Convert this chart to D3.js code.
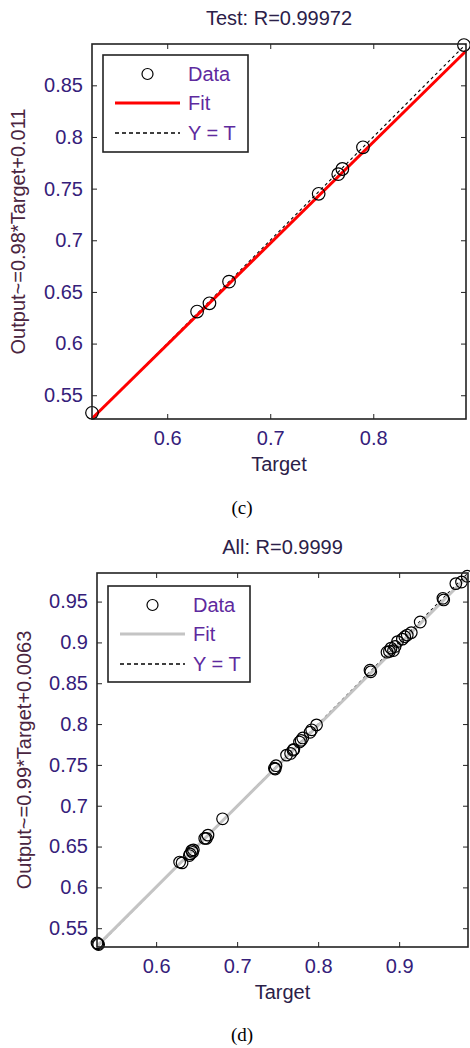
<!DOCTYPE html>
<html>
<head>
<meta charset="UTF-8">
<title>Regression plots</title>
<script src="https://d3js.org/d3.v7.min.js"></script>
<style>
  body { margin: 0; background: #fff; }
  svg text { font-family: "Liberation Sans", Arial, sans-serif; }
  .caption { font-family: "Liberation Serif", "Times New Roman", serif !important; }
</style>
</head>
<body>
<svg id="fig" width="470" height="1048"></svg>
<script>
// ---- data ----
// test set: [target, output]
var testTarget = [0.527, 0.629, 0.641, 0.660, 0.747, 0.766, 0.770, 0.790, 0.888];
var testOutput = [0.533, 0.631, 0.639, 0.660, 0.745, 0.764, 0.769, 0.790, 0.889];
var testFit = [0.98, 0.011];          // slope, intercept
var testLim = [0.527, 0.890];
var testXTicks = [0.6, 0.7, 0.8];
var testYTicks = [0.55, 0.6, 0.65, 0.7, 0.75, 0.8, 0.85];

// all data
var allTarget = [0.527, 0.528, 0.529, 0.629, 0.632, 0.641, 0.642, 0.644, 0.646, 0.645,
                 0.660, 0.662, 0.664, 0.682, 0.746, 0.747, 0.748, 0.761, 0.766, 0.769,
                 0.770, 0.777, 0.779, 0.781, 0.790, 0.792, 0.798, 0.864, 0.865, 0.885,
                 0.888, 0.890, 0.893, 0.895, 0.898, 0.904, 0.907, 0.910, 0.915, 0.926,
                 0.954, 0.955, 0.970, 0.977, 0.984];
var allOutput = [0.532, 0.531, 0.530, 0.631, 0.630, 0.639, 0.641, 0.645, 0.646, 0.643,
                 0.660, 0.660, 0.664, 0.684, 0.746, 0.745, 0.749, 0.762, 0.764, 0.768,
                 0.769, 0.778, 0.780, 0.783, 0.790, 0.793, 0.799, 0.866, 0.864, 0.888,
                 0.889, 0.893, 0.890, 0.895, 0.901, 0.904, 0.907, 0.909, 0.912, 0.925,
                 0.954, 0.952, 0.972, 0.974, 0.981];
var allFit = [0.99, 0.0063];
var allLim = [0.527, 0.985];
var allXTicks = [0.6, 0.7, 0.8, 0.9];
var allYTicks = [0.55, 0.6, 0.65, 0.7, 0.75, 0.8, 0.85, 0.9, 0.95];

var svg = d3.select("#fig");

function drawPanel(p) {
  var x = d3.scaleLinear().domain(p.lim).range([p.box[0], p.box[2]]);
  var y = d3.scaleLinear().domain(p.lim).range([p.box[3], p.box[1]]);
  var g = svg.append("g");

  // Y = T dashed line
  g.append("line")
    .attr("x1", x(p.lim[0])).attr("y1", y(p.lim[0]))
    .attr("x2", x(p.lim[1])).attr("y2", y(p.lim[1]))
    .attr("stroke", "#000").attr("stroke-width", 1.1)
    .attr("stroke-dasharray", "3,3");

  // fit line
  var f = function(t) { return p.fit[0] * t + p.fit[1]; };
  g.append("line")
    .attr("x1", x(p.lim[0])).attr("y1", y(f(p.lim[0])))
    .attr("x2", x(p.lim[1])).attr("y2", y(f(p.lim[1])))
    .attr("stroke", p.fitColor).attr("stroke-width", 3);

  // data circles
  g.selectAll("circle.pt")
    .data(p.target.map(function(t, i) { return [t, p.output[i]]; }))
    .enter().append("circle")
    .attr("class", "pt")
    .attr("cx", function(d) { return x(d[0]); })
    .attr("cy", function(d) { return y(d[1]); })
    .attr("r", p.r)
    .attr("fill", "none").attr("stroke", "#000").attr("stroke-width", 1.2);

  // axes, ticks inward on all 4 sides
  var fmt = function(d) { return String(d); };
  var ax = [
    [d3.axisBottom(x).tickValues(p.xTicks).tickFormat(fmt), "translate(0," + p.box[3] + ")", 12],
    [d3.axisTop(x).tickValues(p.xTicks).tickFormat(""), "translate(0," + p.box[1] + ")", 12],
    [d3.axisLeft(y).tickValues(p.yTicks).tickFormat(fmt), "translate(" + p.box[0] + ",0)", 9],
    [d3.axisRight(y).tickValues(p.yTicks).tickFormat(""), "translate(" + p.box[2] + ",0)", 9]
  ];
  ax.forEach(function(a) {
    var s = g.append("g").attr("transform", a[1])
      .call(a[0].tickSizeInner(-5).tickSizeOuter(0).tickPadding(a[2]));
    s.select(".domain").remove();
    s.selectAll("line").attr("stroke", "#222");
    s.selectAll("text").attr("font-size", 20).attr("fill", "#35207a")
      .attr("font-family", "Liberation Sans, Arial, sans-serif");
  });

  // frame
  g.append("rect")
    .attr("x", p.box[0]).attr("y", p.box[1])
    .attr("width", p.box[2] - p.box[0]).attr("height", p.box[3] - p.box[1])
    .attr("fill", "none").attr("stroke", "#222").attr("stroke-width", 1.6);

  // title & labels
  var cx = (p.box[0] + p.box[2]) / 2;
  g.append("text").attr("x", cx).attr("y", p.box[1] - 24)
    .attr("text-anchor", "middle").attr("dominant-baseline", "middle")
    .attr("font-size", 20).attr("fill", "#2b2048").text(p.title);
  g.append("text").attr("x", cx).attr("y", p.box[3] + 47)
    .attr("text-anchor", "middle").attr("dominant-baseline", "middle")
    .attr("font-size", 20).attr("fill", "#2b2048").text("Target");
  g.append("text")
    .attr("transform", "translate(" + p.ylabX + "," + ((p.box[1] + p.box[3]) / 2) + ") rotate(-90)")
    .attr("text-anchor", "middle").attr("dominant-baseline", "middle")
    .attr("font-size", 20).attr("fill", "#4a2540").text(p.ylabel);

  // legend
  var L = p.legend;
  g.append("rect").attr("x", L[0]).attr("y", L[1]).attr("width", L[2]).attr("height", L[3])
    .attr("fill", "#fff").attr("stroke", "#222").attr("stroke-width", 1.6);
  var lx0 = L[0] + 12, lx1 = L[0] + 77, tx = L[0] + 85;
  var rows = [L[1] + 19, L[1] + 48, L[1] + 78];
  g.append("circle").attr("cx", (lx0 + lx1) / 2).attr("cy", rows[0]).attr("r", 5.5)
    .attr("fill", "none").attr("stroke", "#000").attr("stroke-width", 1.2);
  g.append("line").attr("x1", lx0).attr("x2", lx1).attr("y1", rows[1]).attr("y2", rows[1])
    .attr("stroke", p.fitColor).attr("stroke-width", 3);
  g.append("line").attr("x1", lx0).attr("x2", lx1).attr("y1", rows[2]).attr("y2", rows[2])
    .attr("stroke", "#000").attr("stroke-width", 1.3).attr("stroke-dasharray", "4,3");
  ["Data", "Fit", "Y = T"].forEach(function(t, i) {
    g.append("text").attr("x", tx).attr("y", rows[i] + 2)
      .attr("dominant-baseline", "middle").attr("font-size", 20)
      .attr("fill", "#5e2a9e").text(t);
  });

  // caption
  svg.append("text").attr("class", "caption")
    .attr("x", 242).attr("y", p.capY)
    .attr("text-anchor", "middle").attr("dominant-baseline", "middle")
    .attr("font-size", 19).attr("fill", "#000").text(p.caption);
}

drawPanel({
  target: testTarget, output: testOutput, fit: testFit, lim: testLim,
  xTicks: testXTicks, yTicks: testYTicks,
  box: [92, 44, 466, 419], r: 6.3, fitColor: "#ff0000",
  title: "Test: R=0.99972", ylabel: "Output~=0.98*Target+0.011", ylabX: 20,
  legend: [103, 55, 145, 97], caption: "(c)", capY: 510
});

drawPanel({
  target: allTarget, output: allOutput, fit: allFit, lim: allLim,
  xTicks: allXTicks, yTicks: allYTicks,
  box: [97, 573, 468, 947], r: 5.8, fitColor: "#c4c4c4",
  title: "All: R=0.9999", ylabel: "Output~=0.99*Target+0.0063", ylabX: 26,
  legend: [108, 586, 142, 96], caption: "(d)", capY: 1037
});
</script>
</body>
</html>
